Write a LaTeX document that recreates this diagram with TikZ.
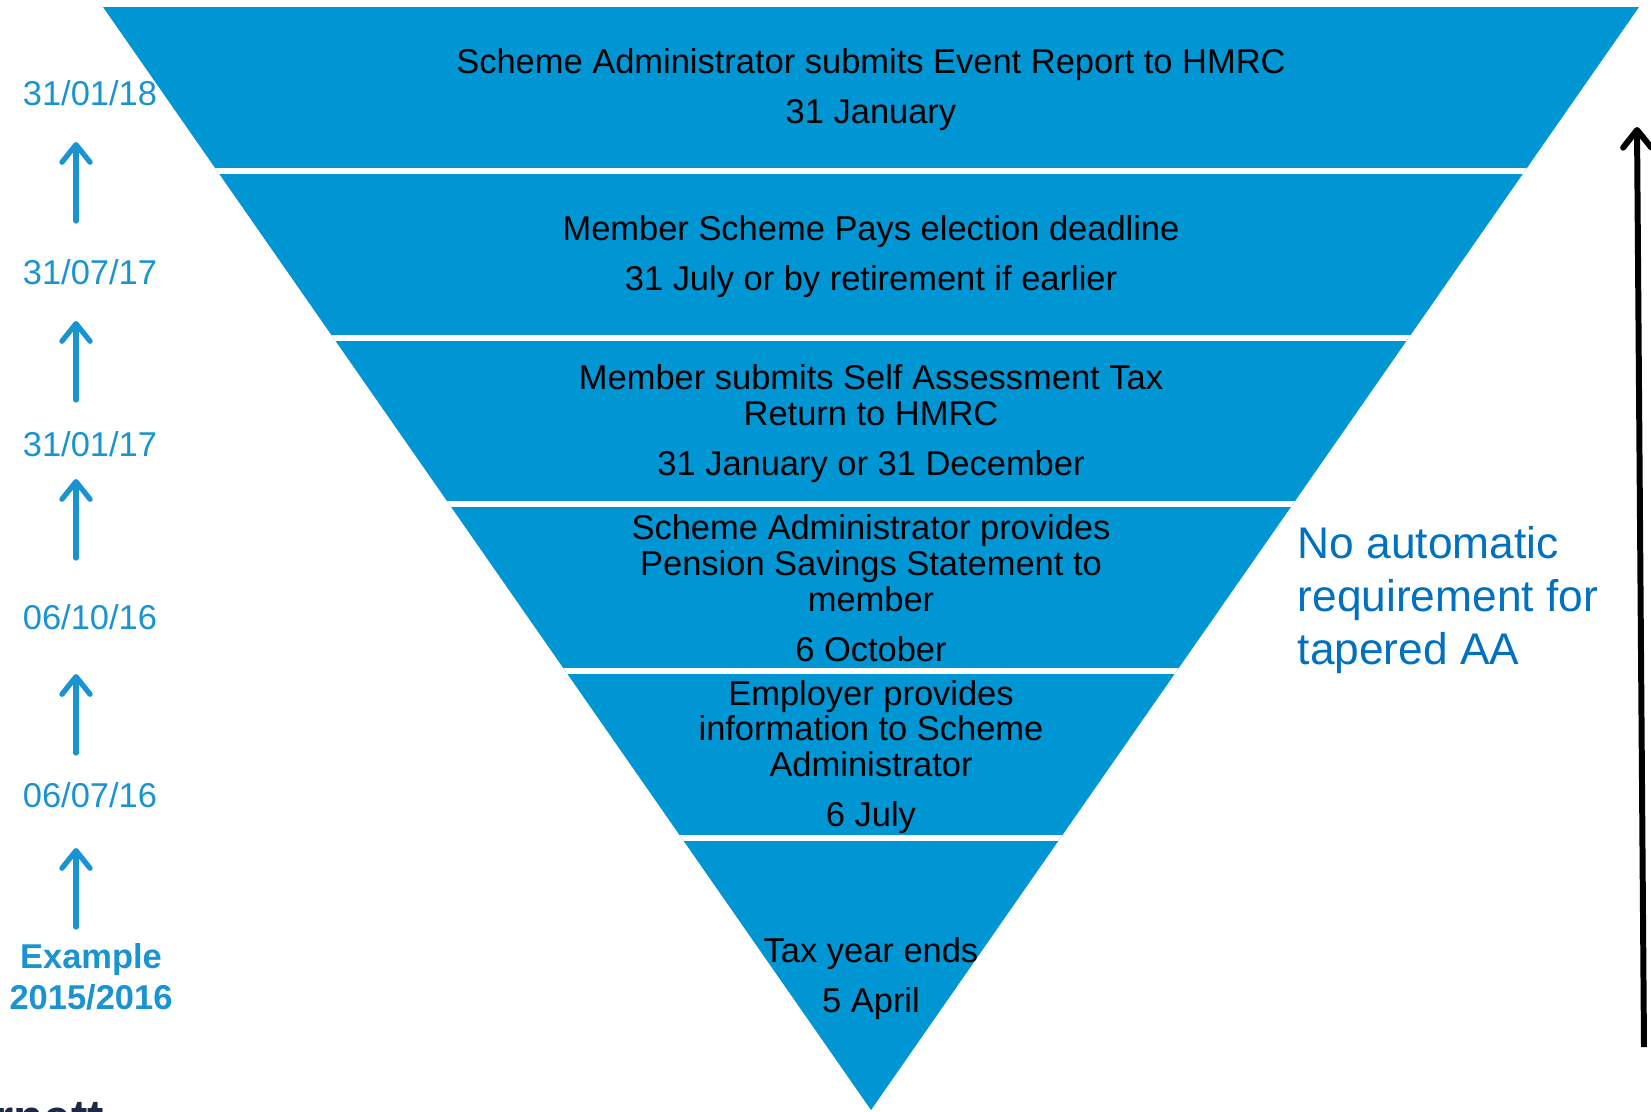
\documentclass[tikz,border=0pt]{standalone}
\usepackage{fontspec}
\setmainfont{Liberation Sans}
\usetikzlibrary{arrows.meta}

\definecolor{funnelblue}{HTML}{0095D3}
\definecolor{dateblue}{HTML}{1A93D1}
\definecolor{noteblue}{HTML}{0070C0}
\definecolor{logonavy}{HTML}{1B2A47}

\tikzset{
  band/.style={align=center, inner sep=0pt, text=black, font=\fontsize{9.8}{10.2}\selectfont},
  datelbl/.style={align=center, inner sep=0pt, text=dateblue, font=\fontsize{9.8}{11.7}\selectfont},
  uparrow/.style={draw=dateblue, line width=1.5pt, line cap=round, -{Straight Barb[length=5pt,width=8pt,round]}},
  timearrow/.style={draw=black, line width=1.7pt, -{Straight Barb[length=5pt,width=8pt,round]}},
  note/.style={align=left, inner sep=0pt, text=noteblue, font=\fontsize{12.6}{15.1}\selectfont},
}

\begin{document}
\begin{tikzpicture}[x=0.01cm, y=-0.01cm]
  \useasboundingbox (0,0) rectangle (1651,1111);

  % funnel, cut into six bands
  \fill[funnelblue] (103,7) -- (1639,7) -- (871,1110) -- cycle;
  \begin{scope}
    \clip (103,7) -- (1639,7) -- (871,1110) -- cycle;
    \foreach \y in {170.8,337.6,504.4,671.2,838}
      \draw[white, line width=0.06cm] (0,\y) -- (1651,\y);
  \end{scope}

  \node[band] (evreport) at (871,90) {Scheme Administrator submits Event Report to HMRC\\[4pt]31 January};
  \node[band] (election) at (871,257) {Member Scheme Pays election deadline\\[4pt]31 July or by retirement if earlier};
  \node[band] (selfassess) at (871,423.5) {Member submits Self Assessment Tax\\Return to HMRC\\[4pt]31 January or 31 December};
  \node[band] (pss) at (871,588) {Scheme Administrator provides\\Pension Savings Statement to\\member\\[4pt]6 October};
  \node[band] (employer) at (871,757) {Employer provides\\information to Scheme\\Administrator\\[4pt]6 July};
  \node[band] (taxyear) at (871,979) {Tax year ends\\[4pt]5 April};

  % dates on the left
  \node[datelbl] (d310118) at (90,93) {31/01/18};
  \node[datelbl] (d310717) at (90,272) {31/07/17};
  \node[datelbl] (d310117) at (90,444) {31/01/17};
  \node[datelbl] (d061016) at (90,617) {06/10/16};
  \node[datelbl] (d060716) at (90,795) {06/07/16};
  \node[datelbl, font=\fontsize{9.8}{11.7}\selectfont\bfseries] (example) at (91,976.5) {Example\\2015/2016};

  \foreach \i/\b/\t in {1/221/142, 2/400/321, 3/558/479, 4/753/674, 5/927/848} {
    \coordinate (up\i s) at (76,\b);
    \coordinate (up\i e) at (76,\t);
    \draw[uparrow] (up\i s) -- (up\i e);
  }

  % right hand side
  \node[note, anchor=west] (tapered) at (1297,600) {No automatic\\requirement for\\tapered AA};
  \coordinate (timebase) at (1644,1047);
  \coordinate (timetop) at (1637,127);
  \draw[timearrow] (timebase) -- (timetop);

  % logo, cut off by the page edge
  \node[anchor=base west, inner sep=0pt, text=logonavy, font=\fontsize{14}{14}\selectfont\bfseries] (logo) at (-6,1134) {rnett};
\end{tikzpicture}
\end{document}
